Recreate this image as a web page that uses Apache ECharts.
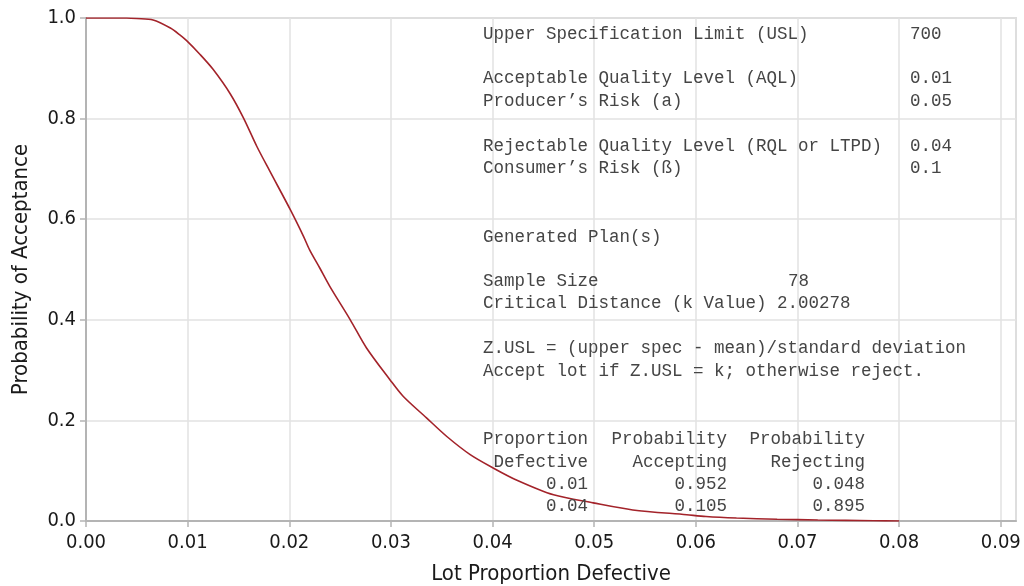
<!DOCTYPE html>
<html><head><meta charset="utf-8">
<script src="https://cdn.jsdelivr.net/npm/echarts@6/dist/echarts.min.js"></script>
<style>html,body{margin:0;padding:0;background:#fff}#c{width:1024px;height:586px}</style>
</head><body><div id="c"></div>
<script>
// Operating characteristic curve
const lotProportion = [0, 0.002, 0.004, 0.005, 0.0066, 0.0083, 0.0092, 0.0099, 0.0112, 0.0125, 0.0142, 0.0155, 0.0168, 0.0181, 0.0201, 0.0214, 0.0220, 0.0230, 0.0240, 0.0260, 0.0276, 0.0299, 0.0312, 0.0335, 0.0355, 0.0378, 0.0401, 0.0424, 0.0460, 0.0499, 0.0538, 0.0591, 0.0610, 0.0640, 0.0680, 0.0720, 0.0775, 0.0800];
const probAccept    = [1, 1, 1, 0.999, 0.996, 0.980, 0.967, 0.955, 0.928, 0.898, 0.849, 0.801, 0.745, 0.695, 0.619, 0.566, 0.539, 0.503, 0.466, 0.400, 0.344, 0.281, 0.248, 0.205, 0.168, 0.132, 0.105, 0.081, 0.052, 0.036, 0.022, 0.0125, 0.009, 0.006, 0.0035, 0.002, 0.0005, 0];

// Annotation texts
const specLabels = ['Upper Specification Limit (USL)', 'Acceptable Quality Level (AQL)', 'Producer\u2019s Risk (a)', 'Rejectable Quality Level (RQL or LTPD)', 'Consumer\u2019s Risk (\u00DF)'];
const specValues = ['700', '0.01', '0.05', '0.04', '0.1'];
const planTitle = 'Generated Plan(s)';
const planLabels = ['Sample Size', 'Critical Distance (k Value)'];
const planValues = ['78', '2.00278'];
const ruleLines = ['Z.USL = (upper spec - mean)/standard deviation', 'Accept lot if Z.USL = k; otherwise reject.'];
const tableHeader1 = ['Proportion', 'Probability', 'Probability'];
const tableHeader2 = ['Defective', 'Accepting', 'Rejecting'];
const tableRows = [['0.01', '0.952', '0.048'], ['0.04', '0.105', '0.895']];

const xLabelTitle = 'Lot Proportion Defective';
const yLabelTitle = 'Probability of Acceptance';

const chart = echarts.init(document.getElementById('c'), null, {renderer: 'canvas'});
const mono = '17.5px "Liberation Mono", "Courier New", monospace';
const txtColor = '#454545';
const g = [];
function addText(str, x, y, align) {
  g.push({type: 'text', x: x, y: y, z: 50,
    style: {text: str, font: mono, fill: txtColor, align: align || 'left', verticalAlign: 'middle'}});
}
const specY = [34, 78, 101, 146, 168];
specLabels.forEach((s, i) => { addText(s, 483, specY[i]); addText(specValues[i], 910, specY[i]); });
addText(planTitle, 483, 237);
const planY = [281, 303];
planLabels.forEach((s, i) => addText(s, 483, planY[i]));
addText(planValues[0], 788, planY[0]);
addText(planValues[1], 777, planY[1]);
const ruleY = [348, 371];
ruleLines.forEach((s, i) => addText(s, 483, ruleY[i]));
const colRight = [588, 727, 865];
tableHeader1.forEach((s, i) => addText(s, colRight[i], 439, 'right'));
tableHeader2.forEach((s, i) => addText(s, colRight[i], 462, 'right'));
const rowY = [484, 506];
tableRows.forEach((r, j) => r.forEach((s, i) => addText(s, colRight[i], rowY[j], 'right')));

const sans = '"DejaVu Sans Condensed", "DejaVu Sans", sans-serif';
const option = {
  animation: false,
  backgroundColor: '#fff',
  grid: {left: 86, top: 18, right: 8, bottom: 65, show: true, borderColor: '#c4c4c4', borderWidth: 1.5,
    containLabel: false, outerBoundsMode: 'none'},
  xAxis: {
    type: 'value', min: 0, max: 0.0915, interval: 0.01,
    name: xLabelTitle, nameLocation: 'middle', nameGap: 42,
    nameTextStyle: {fontFamily: sans, fontSize: 22, color: '#1a1a1a'},
    axisLine: {show: true, lineStyle: {color: '#b4b4b4', width: 2}},
    axisTick: {show: true, length: 6, lineStyle: {color: '#b4b4b4', width: 1.5}},
    axisLabel: {fontFamily: sans, fontSize: 20, color: '#1a1a1a', margin: 12, showMaxLabel: false,
      formatter: v => v.toFixed(2)},
    splitLine: {show: true, lineStyle: {color: '#e2e2e2', width: 1.5}}
  },
  yAxis: {
    type: 'value', min: 0, max: 1, interval: 0.2,
    name: yLabelTitle, nameLocation: 'middle', nameGap: 54,
    nameTextStyle: {fontFamily: sans, fontSize: 22, color: '#1a1a1a'},
    axisLine: {show: true, lineStyle: {color: '#b4b4b4', width: 2}},
    axisTick: {show: true, length: 6, lineStyle: {color: '#b4b4b4', width: 1.5}},
    axisLabel: {fontFamily: sans, fontSize: 20, color: '#1a1a1a', margin: 10,
      formatter: v => v.toFixed(1)},
    splitLine: {show: true, lineStyle: {color: '#e2e2e2', width: 1.5}}
  },
  series: [{
    type: 'line', showSymbol: false, smooth: 0.3,
    data: lotProportion.map((p, i) => [p, probAccept[i]]),
    lineStyle: {color: '#a3232a', width: 1.6},
    z: 10
  }],
  graphic: g
};
chart.setOption(option);
</script>
</body></html>
